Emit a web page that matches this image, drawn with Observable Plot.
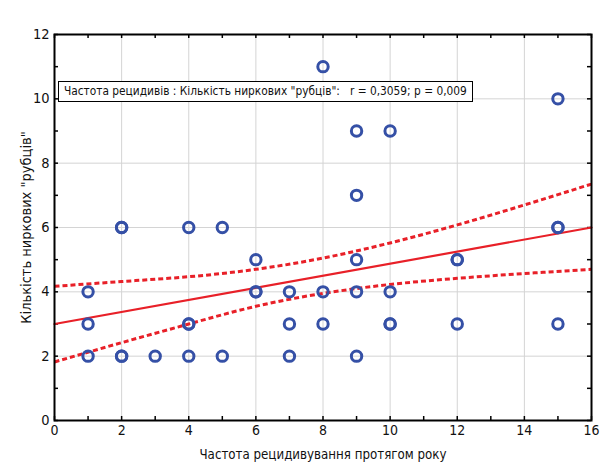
<!DOCTYPE html>
<html>
<head>
<meta charset="utf-8">
<script src="https://cdn.jsdelivr.net/npm/d3@7"></script>
<script src="https://cdn.jsdelivr.net/npm/@observablehq/plot@0.6"></script>
<style>
  html, body { margin: 0; padding: 0; background: #ffffff; }
  #wrap { position: relative; width: 600px; height: 463px; }
  #wrap svg {
    background-color: #ffffff;
    background-image: linear-gradient(#fdf8ec, #fdf8ec);
    background-position: 8px 7px;
    background-size: 592px 456px;
    background-repeat: no-repeat;
  }
  #legend {
    position: absolute; left: 58px; top: 81px;
    background: #ffffff; border: 1.5px solid #000;
    font-family: "DejaVu Sans Condensed", sans-serif;
    font-size: 11.8px; line-height: 19px; padding: 0 5px; white-space: pre; color: #111;
  }
</style>
</head>
<body>
<div id="wrap"></div>
<script>
// Scatter points: relapse frequency per year (x) vs number of renal "scars" (y)
const xs = [1,1,1, 2,2,2,2, 3, 4,4,4,4, 5,5, 6,6,6, 7,7,7, 8,8,8, 9,9,9,9,9, 10,10,10,10, 12,12,12, 15,15,15,15];
const ys = [4,3,2, 6,6,2,2, 2, 6,3,3,2, 6,2, 5,4,4, 4,3,2, 11,4,3, 9,7,5,4,2, 9,4,3,3, 5,5,3, 10,6,6,3];

// Regression line end points
const fitX = [0, 16];
const fitY = [3.0, 6.0];

// 95% confidence bands
const bandX = [0, 2, 4, 6, 8, 10, 12, 14, 16];
const upper = [4.17, 4.32, 4.47, 4.70, 5.05, 5.52, 6.08, 6.70, 7.35];
const lower = [1.82, 2.42, 3.00, 3.55, 3.95, 4.23, 4.42, 4.57, 4.70];

const xTicks = [0, 2, 4, 6, 8, 10, 12, 14, 16];
const yTicks = [0, 2, 4, 6, 8, 10, 12];
const xMinor = d3.range(0, 17, 1);
const yMinor = d3.range(0, 13, 1);

const xLabel = "Частота рецидивування протягом року";
const yLabel = "Кількість ниркових \"рубців\"";
const legendText = "Частота рецидивів : Кількість ниркових \"рубців\":   r = 0,3059; p = 0,009";

const points = xs.map((x, i) => ({x, y: ys[i]}));
const fit = fitX.map((x, i) => ({x, y: fitY[i]}));
const bandU = bandX.map((x, i) => ({x, y: upper[i]}));
const bandL = bandX.map((x, i) => ({x, y: lower[i]}));

const W = 600, H = 463, mL = 54, mR = 9, mT = 34, mB = 43;
const pw = W - mL - mR, ph = H - mT - mB;
const red = "#e82028";

const chart = Plot.plot({
  width: W, height: H,
  marginLeft: mL, marginRight: mR, marginTop: mT, marginBottom: mB,
  style: {fontFamily: "'DejaVu Sans Condensed', sans-serif", fontSize: "14px", color: "#111", background: "transparent"},
  x: {domain: [0, 16]},
  y: {domain: [0, 12]},
  marks: [
    Plot.frame({fill: "white"}),
    Plot.gridX(xTicks.filter(d => d > 0 && d < 16), {stroke: "#d4d4d4", strokeOpacity: 1, strokeWidth: 1}),
    Plot.gridY(yTicks.filter(d => d > 0 && d < 12), {stroke: "#d4d4d4", strokeOpacity: 1, strokeWidth: 1}),
    // minor inward ticks on all four sides
    Plot.tickX(xMinor, {x: d => d, insetTop: ph - 4, stroke: "#000", strokeWidth: 1.5}),
    Plot.tickX(xMinor, {x: d => d, insetBottom: ph - 4, stroke: "#000", strokeWidth: 1.5}),
    Plot.tickY(yMinor, {y: d => d, insetRight: pw - 4, stroke: "#000", strokeWidth: 1.5}),
    Plot.tickY(yMinor, {y: d => d, insetLeft: pw - 4, stroke: "#000", strokeWidth: 1.5}),
    Plot.axisX({ticks: xTicks, tickSize: 0, tickPadding: 5, label: null, fontSize: 14}),
    Plot.axisX({ticks: [], tickSize: 0, label: xLabel, labelAnchor: "center", labelArrow: "none", labelOffset: 38, fontSize: 13.2}),
    Plot.axisY({ticks: yTicks, tickSize: 0, tickPadding: 5, label: yLabel, labelAnchor: "center", labelArrow: "none", labelOffset: 34, fontSize: 14.5}),
    Plot.line(bandU, {x: "x", y: "y", curve: "natural", stroke: red, strokeWidth: 3, strokeDasharray: "5,3", strokeLinecap: "butt"}),
    Plot.line(bandL, {x: "x", y: "y", curve: "natural", stroke: red, strokeWidth: 3, strokeDasharray: "5,3", strokeLinecap: "butt"}),
    Plot.line(fit, {x: "x", y: "y", stroke: red, strokeWidth: 2.2}),
    Plot.dot(points, {x: "x", y: "y", r: 5.2, stroke: "#3550a6", strokeWidth: 3, fill: "none"}),
    Plot.frame({stroke: "#000", strokeWidth: 2})
  ]
});

const wrap = document.getElementById("wrap");
wrap.appendChild(chart);
const leg = document.createElement("div");
leg.id = "legend";
leg.textContent = legendText;
wrap.appendChild(leg);
</script>
</body>
</html>
